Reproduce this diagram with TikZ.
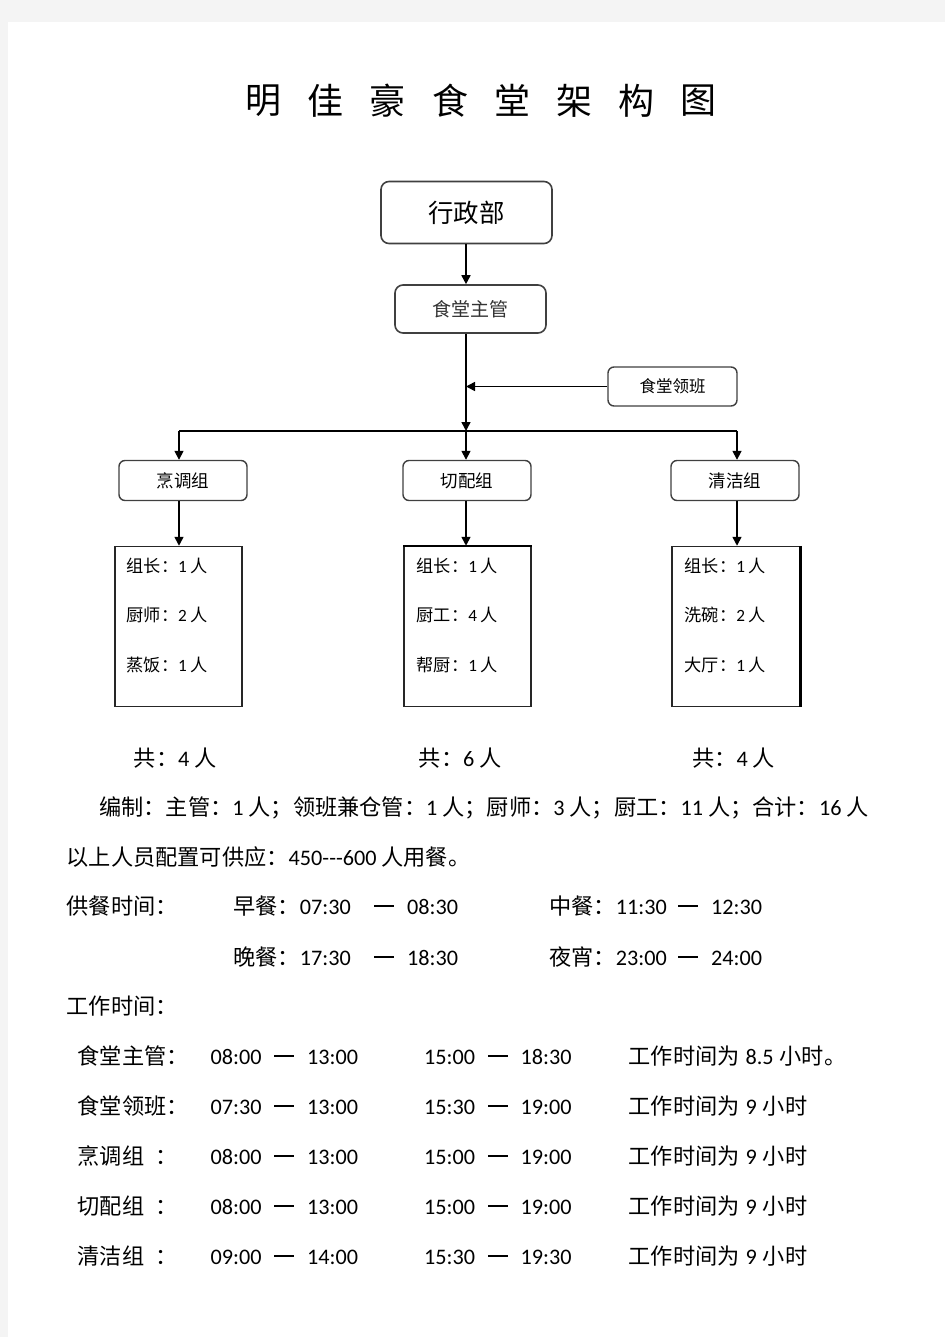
\documentclass[tikz,border=0pt]{standalone}
\usepackage{fontspec}
\setmainfont{Noto Sans CJK SC}
\newfontfamily\latfont{Carlito}
\newcommand{\dg}[1]{{\latfont #1}}
\newcommand{\longdash}{\rule[7pt]{19.5pt}{1.6pt}}
\usetikzlibrary{arrows.meta}
\definecolor{pagegray}{HTML}{F4F4F4}
\definecolor{boxline}{HTML}{404040}
\tikzset{
  rbox/.style={draw=boxline, line width=1.6pt, rounded corners=8pt, inner sep=0pt},
  mbox/.style={draw=black!85, line width=1.1pt, inner sep=0pt, minimum width=127pt, minimum height=160pt},
  arr/.style={-{Triangle[length=9pt,width=9pt]}, line width=1.6pt},
  conn/.style={line width=1.6pt},
  txt/.style={anchor=base west, inner sep=0pt},
  body/.style={font=\fontsize{22.2}{26}\selectfont},
  mtxt/.style={anchor=base west, inner sep=0pt, font=\fontsize{17.2}{20}\selectfont},
  dashn/.style={anchor=base, inner sep=0pt},
}
\begin{document}
\begin{tikzpicture}[x=1pt,y=-1pt]
\useasboundingbox (0,0) rectangle (945,1337);
\fill[pagegray] (0,0) rectangle (945,1337);
\fill[white] (8,22) rectangle (945,1337);

% title
\foreach \c [count=\i] in {明,佳,豪,食,堂,架,构,图}
  \node[inner sep=0pt, font=\fontsize{36}{40}\selectfont] (t\i) at ({263.5+62.2*(\i-1)},100.5) {\c};

% boxes
\node[rbox, minimum width=171pt, minimum height=62pt, font=\fontsize{25.4}{28}\selectfont] (xz) at (466.5,212.5) {行政部};
\node[rbox, minimum width=151pt, minimum height=48pt, font=\fontsize{19}{22}\selectfont, text=black!80] (zg) at (470.5,309) {食堂主管};
\node[rbox, line width=1.4pt, rounded corners=6pt, minimum width=129pt, minimum height=39pt, font=\fontsize{16.5}{19}\selectfont] (lb) at (672.5,386.5) {食堂领班};
\node[rbox, line width=1.4pt, rounded corners=6pt, minimum width=128pt, minimum height=40pt, font=\fontsize{17.5}{20}\selectfont] (g1) at (183,480.5) {烹调组};
\node[rbox, line width=1.4pt, rounded corners=6pt, minimum width=128pt, minimum height=40pt, font=\fontsize{17.5}{20}\selectfont] (g2) at (467,480.5) {切配组};
\node[rbox, line width=1.4pt, rounded corners=6pt, minimum width=128pt, minimum height=40pt, font=\fontsize{17.5}{20}\selectfont] (g3) at (735,480.5) {清洁组};

\node[mbox] (m1) at (178.5,626.3) {};
\node[mbox] (m2) at (467.5,626.3) {};
\node[mbox, minimum width=128pt] (m3) at (736,626.3) {};
\draw[line width=2.4pt] (m2.north west) -- (m2.north east);
\draw[line width=2.2pt] (m3.north east) -- (m3.south east);

% connectors
\coordinate (bm) at (466,431);
\coordinate (bl) at (179,431);
\coordinate (br) at (737,431);
\draw[arr] (xz.south -| bm) -- (zg.north -| bm);
\draw[arr] (zg.south -| bm) -- (bm);
\draw[arr] (lb.west) -- (lb.west -| bm);
\draw[conn] (bl) -- (br);
\draw[arr] (bl) -- (g1.north -| bl);
\draw[arr] (bm) -- (g2.north -| bm);
\draw[arr] (br) -- (g3.north -| br);
\draw[arr] (g1.south -| bl) -- (m1.north -| bl);
\draw[arr] (g2.south -| bm) -- (m2.north -| bm);
\draw[arr] (g3.south -| br) -- (m3.north -| br);

% member texts
\node[mtxt] (m1a) at (126.4,572) {组长：\dg{1} 人};
\node[mtxt] (m1b) at (126.4,621.5) {厨师：\dg{2} 人};
\node[mtxt] (m1c) at (126.4,671.5) {蒸饭：\dg{1} 人};
\node[mtxt] (m2a) at (416.5,572) {组长：\dg{1} 人};
\node[mtxt] (m2b) at (416.5,621.5) {厨工：\dg{4} 人};
\node[mtxt] (m2c) at (416.5,671.5) {帮厨：\dg{1} 人};
\node[mtxt] (m3a) at (684.5,572) {组长：\dg{1} 人};
\node[mtxt] (m3b) at (684.5,621.5) {洗碗：\dg{2} 人};
\node[mtxt] (m3c) at (684.5,671.5) {大厅：\dg{1} 人};

% totals
\node[txt, body] (s1) at (133.6,766) {共：\dg{4} 人};
\node[txt, body] (s2) at (418.6,766) {共：\dg{6} 人};
\node[txt, body] (s3) at (692,766) {共：\dg{4} 人};

\node[txt, body] (bz) at (99,815) {编制：主管：\dg{1} 人；领班兼仓管：\dg{1} 人；厨师：\dg{3} 人；厨工：\dg{11} 人；合计：\dg{16} 人};
\node[txt, body] (gy) at (66.5,865) {以上人员配置可供应：\dg{450---600} 人用餐。};

% meal times
\node[txt, body] (gc) at (66.5,914) {供餐时间：};
\node[txt, body] (zc) at (233,914) {早餐：\dg{07:30}};
\node[dashn] (zcd) at (384,914) {\longdash};
\node[txt, body] (zce) at (407,914) {\dg{08:30}};
\node[txt, body] (wc) at (549,914) {中餐：\dg{11:30}};
\node[dashn] (wcd) at (688,914) {\longdash};
\node[txt, body] (wce) at (711,914) {\dg{12:30}};
\node[txt, body] (jc) at (233,965) {晚餐：\dg{17:30}};
\node[dashn] (jcd) at (384,965) {\longdash};
\node[txt, body] (jce) at (407,965) {\dg{18:30}};
\node[txt, body] (yx) at (549,965) {夜宵：\dg{23:00}};
\node[dashn] (yxd) at (688,965) {\longdash};
\node[txt, body] (yxe) at (711,965) {\dg{24:00}};

\node[txt, body] (gz) at (66.5,1014) {工作时间：};

% work time table
\foreach \lab/\a/\b/\c/\d/\h/\e [count=\i] in {
  {食堂主管：}/08:00/13:00/15:00/18:30/8.5/小时。,
  {食堂领班：}/07:30/13:00/15:30/19:00/9/小时,
  {烹调组\hspace{11pt}：}/08:00/13:00/15:00/19:00/9/小时,
  {切配组\hspace{11pt}：}/08:00/13:00/15:00/19:00/9/小时,
  {清洁组\hspace{11pt}：}/09:00/14:00/15:30/19:30/9/小时}
{
  \pgfmathsetmacro{\yy}{1064+50*(\i-1)}
  \node[txt, body] (lab\i) at (77.4,\yy) {\lab};
  \node[txt, body] (a\i) at (210.4,\yy) {\dg{\a}};
  \node[dashn] (da\i) at (284,\yy) {\longdash};
  \node[txt, body] (b\i) at (307,\yy) {\dg{\b}};
  \node[txt, body] (c\i) at (424,\yy) {\dg{\c}};
  \node[dashn] (dc\i) at (498,\yy) {\longdash};
  \node[txt, body] (d\i) at (520.5,\yy) {\dg{\d}};
  \node[txt, body] (n\i) at (628.4,\yy) {工作时间为\hspace{6pt}\dg{\h}\hspace{6pt}\e};
}
\end{tikzpicture}
\end{document}
